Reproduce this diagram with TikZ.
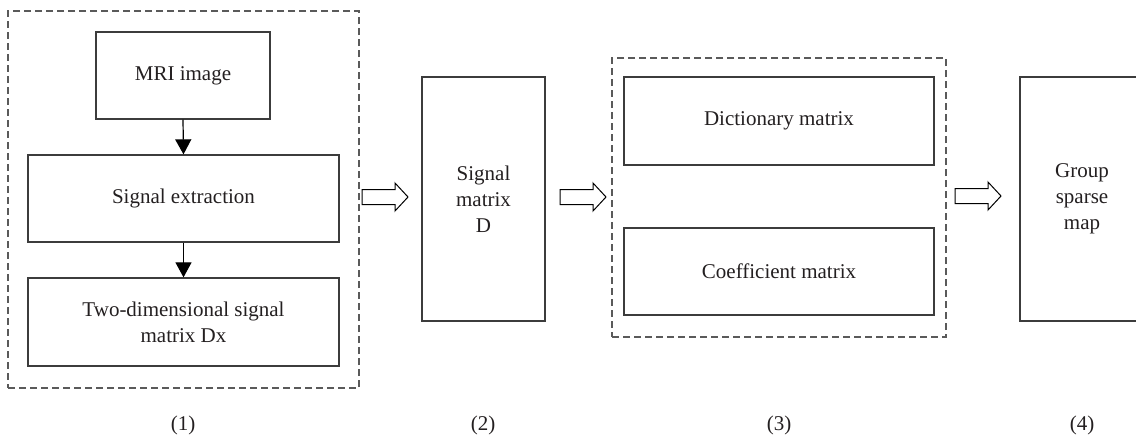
\documentclass[tikz,border=0pt]{standalone}
\usepackage{fontspec}
\setmainfont{Liberation Serif}
\usetikzlibrary{arrows.meta,calc}
\definecolor{boxline}{HTML}{3C3C3C}
\definecolor{dashline}{HTML}{5A5A5A}
\definecolor{txt}{HTML}{231F20}
\begin{document}
\begin{tikzpicture}[x=1pt,y=-1pt,
  box/.style={draw=boxline,line width=1.3pt,rectangle,inner sep=0pt,align=center,text=txt,font=\fontsize{21}{26}\selectfont},
  dashbox/.style={draw=dashline,line width=1.2pt,dash pattern=on 7pt off 4pt,rectangle,inner sep=0pt},
  flow/.style={draw=black,line width=1.2pt,-{Triangle[width=16pt,length=15pt]}},
  lbl/.style={text=txt,font=\fontsize{21}{26}\selectfont},
  barrow/.pic={\draw[line width=1pt,fill=white] (0,-7.5) -- (33,-7.5) -- (33,-14) -- (46,0) -- (33,14) -- (33,7.5) -- (0,7.5) -- cycle;}
]
\useasboundingbox (0,0) rectangle (1136,440);
\clip (0,0) rectangle (1136,440);
% group 1
\node[dashbox,minimum width=351pt,minimum height=377pt] (g1) at (183.5,199.5) {};
\node[box,minimum width=174pt,minimum height=87pt] (mri) at (183,75.5) {MRI image};
\node[box,minimum width=311pt,minimum height=87pt] (sig) at (183.5,198.5) {Signal extraction};
\node[box,minimum width=311pt,minimum height=88pt] (two) at (183.5,322) {Two-dimensional signal\\matrix Dx};
\draw[flow] (mri.south) -- (sig.north);
\draw[flow] (sig.south) -- (two.north);
% signal matrix
\node[box,minimum width=123pt,minimum height=244pt] (D) at (483.5,199) {Signal\\matrix\\D};
% group 3
\node[dashbox,minimum width=334pt,minimum height=279pt] (g3) at (779,197.5) {};
\node[box,minimum width=310pt,minimum height=88pt] (dict) at (779,121) {Dictionary matrix};
\node[box,minimum width=310pt,minimum height=87pt] (coef) at (779,271.5) {Coefficient matrix};
% group sparse map
\node[box,minimum width=124pt,minimum height=244pt] (grp) at (1082,199) {Group\\sparse\\map};
% block arrows
\coordinate (a1) at (362,197);
\coordinate (a2) at (560,197);
\coordinate (a3) at (955,196);
\pic at (a1) {barrow};
\pic at (a2) {barrow};
\pic at (a3) {barrow};
% labels
\node[lbl] (l1) at (183,425) {(1)};
\node[lbl] (l2) at (483,425) {(2)};
\node[lbl] (l3) at (779,425) {(3)};
\node[lbl] (l4) at (1082,425) {(4)};
\end{tikzpicture}
\end{document}
